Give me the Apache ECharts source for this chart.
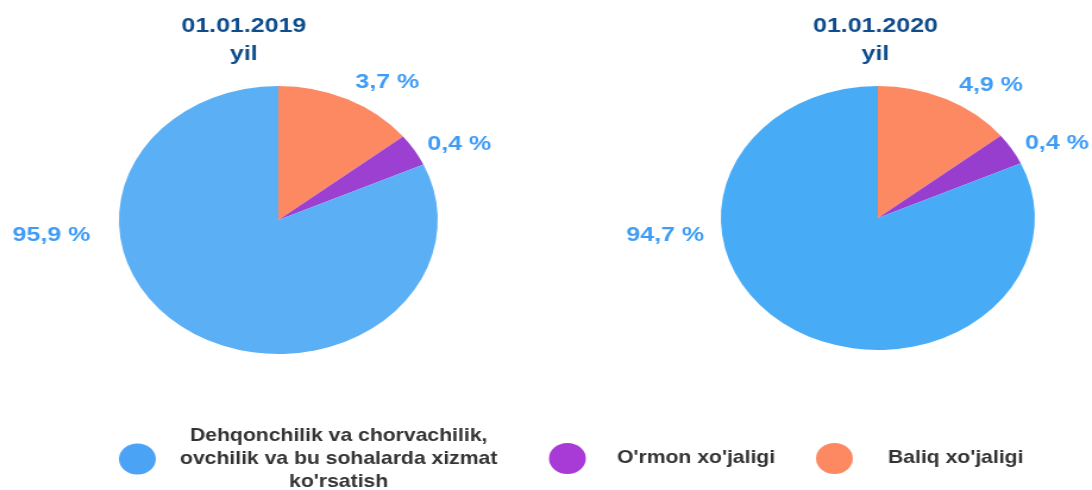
<!DOCTYPE html>
<html>
<head>
<meta charset="utf-8">
<script src="https://cdn.jsdelivr.net/npm/echarts@6/dist/echarts.min.js"></script>
<style>
html,body{margin:0;padding:0;background:#fff;overflow:hidden;width:1092px;height:490px;}
#main{width:918px;height:490px;transform:scaleX(1.1895);transform-origin:0 0;}
</style>
</head>
<body>
<div id="main"></div>
<script>
// Data
const categories = ["Baliq xo'jaligi", "O'rmon xo'jaligi", "Dehqonchilik va chorvachilik, ovchilik va bu sohalarda xizmat ko'rsatish"];
const legendOrder = [2, 1, 0];
const titles = ["01.01.2019\nyil", "01.01.2020\nyil"];
const shares2019 = [14.3, 3.9, 81.8];   // slice sizes as drawn
const shares2020 = [14.3, 3.9, 81.8];
const labels2019 = ["3,7 %", "0,4 %", "95,9 %"];
const labels2020 = ["4,9 %", "0,4 %", "94,7 %"];
const legendLines = ["Baliq xo'jaligi", "O'rmon xo'jaligi", "Dehqonchilik va chorvachilik,\novchilik va bu sohalarda xizmat\nko'rsatish"];

const colors2019 = ['#fd8963', '#9b40d0', '#5aaff5'];
const colors2020 = ['#fd8963', '#973ecf', '#48abf5'];
const legendColors = ['#fd8963', '#a83ad6', '#4aa3f5'];
const FONT = 'Arial, "Liberation Sans", sans-serif';

const pies = [
  {c: [234, 220], r: 134, shares: shares2019, labels: labels2019, colors: colors2019,
   blue: {dx: -158, dy: 15}, orange: {dx: 0, dy: -4}, purple: {dx: -1.7, dy: 2}},
  {c: [738, 218], r: 132, shares: shares2020, labels: labels2020, colors: colors2020,
   blue: {dx: -146, dy: 17}, orange: {dx: 4.5, dy: 0}, purple: {dx: -1.7, dy: 2}}
];

const chart = echarts.init(document.getElementById('main'), null, {renderer: 'canvas'});

const series = pies.map((p) => ({
  type: 'pie',
  center: p.c,
  radius: p.r,
  startAngle: 90,
  clockwise: true,
  avoidLabelOverlap: false,
  silent: true,
  emphasis: {disabled: true},
  label: {
    show: true,
    position: 'outside',
    formatter: (prm) => p.labels[prm.dataIndex],
    color: '#3f9cf5',
    fontSize: 21,
    fontWeight: 'bold',
    fontFamily: FONT,
    distanceToLabelLine: 0
  },
  labelLine: {show: false, length: 15, length2: 0},
  labelLayout: (prm) => {
    if (prm.dataIndex === 2) {
      return {x: p.c[0] + p.blue.dx, y: p.c[1] + p.blue.dy, align: 'right', verticalAlign: 'middle'};
    }
    if (prm.dataIndex === 0) return {dx: p.orange.dx, dy: p.orange.dy};
    return {dx: p.purple.dx, dy: p.purple.dy};
  },
  data: categories.map((n, i) => ({name: n, value: p.shares[i], itemStyle: {color: p.colors[i]}}))
}));

const legendBoxes = [
  // for categories[2], [1], [0]
  {left: 100, top: 427, itemWidth: 61.6},
  {left: 461.5, top: 443, itemWidth: 73.4},
  {left: 686, top: 443, itemWidth: 80}
];

const legends = legendOrder.map((ci, k) => ({
  left: legendBoxes[k].left,
  top: legendBoxes[k].top,
  orient: 'horizontal',
  icon: 'circle',
  itemWidth: legendBoxes[k].itemWidth,
  itemHeight: 31,
  padding: 0,
  selectedMode: false,
  data: [{name: categories[ci], itemStyle: {color: legendColors[ci]}}],
  formatter: (name) => {
    const i = categories.indexOf(name);
    return legendLines[i].split('\n').map(l => '{a|' + l + '}').join('\n');
  },
  textStyle: {
    rich: {
      a: {fontSize: 17.8, fontWeight: 'bold', color: '#333333', fontFamily: FONT, lineHeight: 23, align: 'center'}
    }
  }
}));

chart.setOption({
  animation: false,
  title: [
    {text: titles[0], left: 200, top: 7, textAlign: 'center',
     textStyle: {color: '#0e4c8c', fontSize: 21, fontWeight: 'bold', fontFamily: FONT, lineHeight: 28}},
    {text: titles[1], left: 731, top: 7, textAlign: 'center',
     textStyle: {color: '#0e4c8c', fontSize: 21, fontWeight: 'bold', fontFamily: FONT, lineHeight: 28}}
  ],
  legend: legends,
  series: series
});
</script>
</body>
</html>
